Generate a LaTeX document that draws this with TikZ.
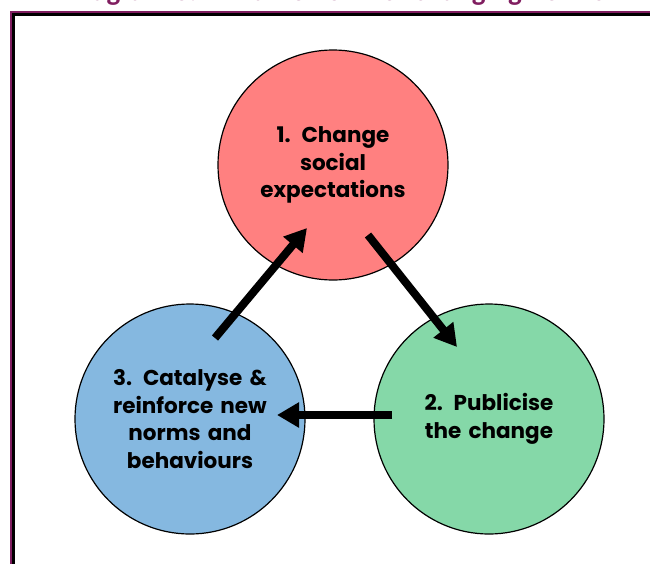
\documentclass[tikz,border=0pt]{standalone}
\usepackage{fontspec}
\setmainfont{Poppins}
\newfontfamily\titlefont{Carlito}
\usepackage{tikz}
\usetikzlibrary{arrows.meta}
\usepackage{xcolor}
\definecolor{normred}{RGB}{255,128,128}
\definecolor{normgreen}{RGB}{133,216,168}
\definecolor{normblue}{RGB}{133,184,224}
\definecolor{normplum}{RGB}{128,30,96}

\begin{document}
\begin{tikzpicture}[
        x=1pt, y=-1pt,
        phase/.style={circle, draw=black, line width=1.2pt, minimum size=230pt, inner sep=0pt, text width=190pt, align=center, font=\fontsize{21.5}{27.5}\selectfont\bfseries},
        flow/.style={draw, line width=8pt, -{Triangle[length=22pt,width=24pt]}},
        title/.style={anchor=base, text=normplum, font=\titlefont\fontsize{29}{32}\selectfont\bfseries}
    ]
    \useasboundingbox (0,0) rectangle (650,563);
    % page frame, runs off the right and bottom edges
    \draw [normplum, line width=2pt] (11,12) rectangle (700,620);
    \draw [black, line width=3pt] (13.5,14.5) rectangle (700,620);
    \node [title] (title) at (336,0.5) {Diagram 3: A Framework for changing norms};
    \node [phase, fill=normred] (expect) at (333,165) {1. Change\\ social\\ expectations};
    \node [phase, fill=normgreen] (publicise) at (489,419) {2. Publicise\\ the change};
    \node [phase, fill=normblue] (catalyse) at (190,419) {3. Catalyse \&\\ reinforce new\\ norms and\\ behaviours};
    \path [flow] ([shift={(25,-81)}]catalyse.center) -- ([shift={(-26,63)}]expect.center);
    \path [flow] ([shift={(35,70)}]expect.center) -- ([shift={(-32,-72)}]publicise.center);
    \path [flow] ([shift={(-97,-4)}]publicise.center) -- ([shift={(87,-4)}]catalyse.center);
\end{tikzpicture}
\end{document}
